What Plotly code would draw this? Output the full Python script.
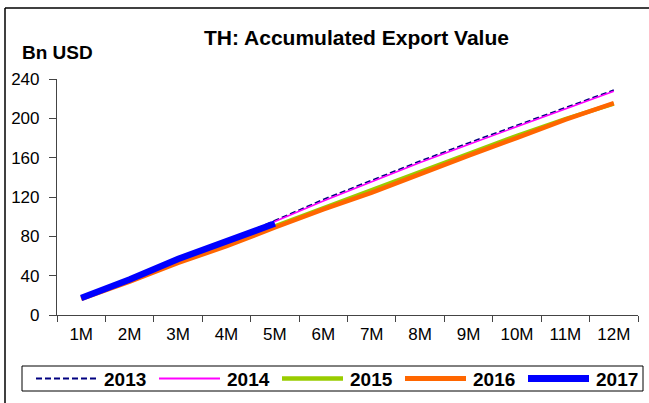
import plotly.graph_objects as go

months = ["1M", "2M", "3M", "4M", "5M", "6M", "7M", "8M", "9M", "10M", "11M", "12M"]
years = ["2013", "2014", "2015", "2016", "2017"]
v2013 = [17.7, 35.8, 56.5, 75.0, 96.0, 117.5, 137.0, 156.5, 175.0, 193.0, 211.5, 228.8]
v2014 = [17.4, 35.4, 56.0, 74.0, 95.0, 116.0, 135.5, 155.0, 173.5, 191.5, 209.5, 227.5]
v2015 = [17.2, 35.0, 54.6, 72.0, 90.5, 108.8, 127.0, 146.0, 164.5, 182.5, 199.5, 214.8]
v2016 = [16.3, 33.8, 53.0, 70.0, 89.0, 107.4, 124.4, 143.6, 162.0, 180.2, 198.6, 215.4]
v2017 = [17.3, 36.0, 57.0, 74.5, 93.0]
y_ticks = [0, 40, 80, 120, 160, 200, 240]

series = [v2013, v2014, v2015, v2016, v2017]
colors = ["#000080", "#FF00FF", "#99CC00", "#FF6600", "#0000FF"]
widths = [1.6, 1.6, 4, 4.5, 6.5]
dashes = ["6px,3px", "solid", "solid", "solid", "solid"]

W, H = 649, 403
L, R, T, B = 57, 11, 79, 88
pw, ph = W - L - R, H - T - B

def px(x):
    return (x - L) / pw

def py(y):
    return (H - B - y) / ph

FONT = "Liberation Sans, Arial, sans-serif"

fig = go.Figure()
for name, vals, c, w, d in zip(years, series, colors, widths, dashes):
    fig.add_trace(go.Scatter(
        x=months[:len(vals)], y=vals, name=name, mode="lines",
        line=dict(color=c, width=w, dash=d), showlegend=False,
    ))

shapes = []
annotations = []
# outer frame (top and left edges)
shapes.append(dict(type="line", xref="paper", yref="paper", x0=px(5), x1=px(649), y0=py(8), y1=py(8),
                   line=dict(color="black", width=1.5)))
shapes.append(dict(type="line", xref="paper", yref="paper", x0=px(5), x1=px(5), y0=py(8), y1=py(403),
                   line=dict(color="black", width=1.5)))
# legend box
shapes.append(dict(type="rect", xref="paper", yref="paper", x0=px(22), x1=px(643), y0=py(366), y1=py(391),
                   line=dict(color="black", width=1), fillcolor="white"))
for i, (name, c, w, d) in enumerate(zip(years, colors, widths, dashes)):
    x0 = 36 + i * 123
    shapes.append(dict(type="line", xref="paper", yref="paper", x0=px(x0), x1=px(x0 + 61),
                       y0=py(378.5), y1=py(378.5),
                       line=dict(color=c, width=min(w + 0.5, 7), dash=d)))
    annotations.append(dict(text="<b>%s</b>" % name, xref="paper", yref="paper", x=px(x0 + 66), y=py(379),
                            xanchor="left", yanchor="middle", showarrow=False,
                            font=dict(family=FONT, size=19, color="black")))

annotations.append(dict(text="<b>TH: Accumulated Export Value</b>", xref="paper", yref="paper",
                        x=px(356), y=py(37), xanchor="center", yanchor="middle", showarrow=False,
                        font=dict(family=FONT, size=21, color="black")))
annotations.append(dict(text="<b>Bn USD</b>", xref="paper", yref="paper",
                        x=px(20), y=py(52), xanchor="left", yanchor="middle", showarrow=False,
                        font=dict(family=FONT, size=19, color="black")))

fig.update_layout(
    width=W, height=H,
    margin=dict(l=L, r=R, t=T, b=B),
    paper_bgcolor="white", plot_bgcolor="white",
    shapes=shapes, annotations=annotations,
    showlegend=False,
    font=dict(family=FONT, color="black"),
)
fig.update_xaxes(
    type="category", categoryorder="array", categoryarray=months,
    range=[-0.5, len(months) - 0.5], autorange=False,
    tickson="boundaries", ticks="outside", ticklen=6, tickcolor="#444",
    showline=True, linecolor="#444", linewidth=1.2, showgrid=False, zeroline=False,
    tickfont=dict(family=FONT, size=17, color="black"), ticklabelstandoff=3,
)
fig.update_yaxes(
    range=[0, 240], autorange=False, tickvals=y_ticks, ticks="outside", ticklen=7, tickcolor="#444",
    showline=True, linecolor="#444", linewidth=1.2, showgrid=False, zeroline=False,
    tickfont=dict(family=FONT, size=17, color="black"), ticklabelstandoff=6,
)

fig.write_html("out.html", config={"displayModeBar": False},
               post_script="document.body.style.margin='0';document.body.style.overflow='hidden';")
